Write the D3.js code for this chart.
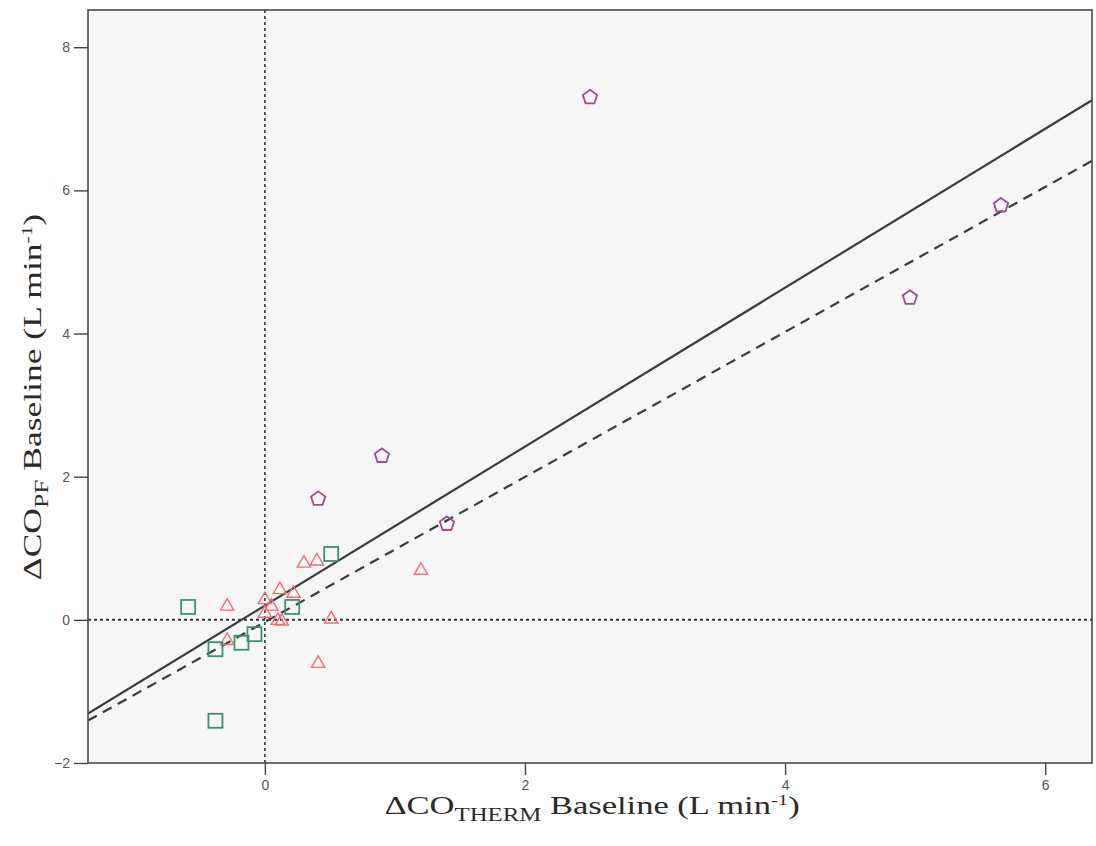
<!DOCTYPE html>
<html><head><meta charset="utf-8">
<script src="https://cdn.jsdelivr.net/npm/d3@7"></script>
<style>body{margin:0;background:#fff}svg{display:block}</style>
</head><body>
<script>
// ---- data ----
const xTicks = [0, 2, 4, 6];
const yTicks = [-2, 0, 2, 4, 6, 8];
const pentX = [2.5, 5.66, 4.96, 0.9, 0.41, 1.4];
const pentY = [7.3, 5.79, 4.5, 2.29, 1.69, 1.34];
const triX = [-0.29, 0.3, 0.4, 0.0, 0.115, 0.22, 0.0, 0.1, 0.13, 0.51, 0.41, -0.29, 1.2, 0.05];
const triY = [0.2, 0.8, 0.83, 0.29, 0.43, 0.38, 0.1, 0.0, -0.01, 0.02, -0.6, -0.28, 0.7, 0.2];
const sqX = [0.51, 0.21, -0.59, -0.08, -0.18, -0.38, -0.38];
const sqY = [0.92, 0.18, 0.18, -0.2, -0.32, -0.41, -1.41];
const fitSolid = {intercept: 0.2, slope: 1.11};
const fitDashed = {intercept: -0.03, slope: 1.013};
const xDomain = [-1.36, 6.36];
const yDomain = [-2, 8.52];

const W = 1096, H = 846;
const L = 88, R = 1092, T = 10, B = 763;
const svg = d3.select("body").append("svg").attr("width", W).attr("height", H);
const x = d3.scaleLinear().domain(xDomain).range([L, R]);
const y = d3.scaleLinear().domain(yDomain).range([B, T]);

svg.append("rect").attr("x", L).attr("y", T).attr("width", R - L).attr("height", B - T)
  .attr("fill", "#f6f6f7");

const clip = svg.append("clipPath").attr("id", "c").append("rect")
  .attr("x", L).attr("y", T).attr("width", R - L).attr("height", B - T);
const g = svg.append("g").attr("clip-path", "url(#c)");

// reference lines
g.append("line").attr("x1", x(0)).attr("x2", x(0)).attr("y1", T).attr("y2", B)
  .attr("stroke", "#333").attr("stroke-width", 1.6).attr("stroke-dasharray", "3,3");
g.append("line").attr("x1", L).attr("x2", R).attr("y1", y(0)).attr("y2", y(0))
  .attr("stroke", "#333").attr("stroke-width", 2).attr("stroke-dasharray", "3,3");

// fit lines
function fitLine(f, dash, w) {
  g.append("line")
    .attr("x1", x(xDomain[0])).attr("y1", y(f.intercept + f.slope * xDomain[0]))
    .attr("x2", x(xDomain[1])).attr("y2", y(f.intercept + f.slope * xDomain[1]))
    .attr("stroke", "#3a3a3e").attr("stroke-width", w)
    .attr("stroke-dasharray", dash);
}
fitLine(fitDashed, "10,7", 2.2);
fitLine(fitSolid, null, 2.2);

// markers
function pentagonPath(r) {
  const pts = [];
  for (let i = 0; i < 5; i++) {
    const a = -Math.PI / 2 + i * 2 * Math.PI / 5;
    pts.push([r * Math.cos(a), r * Math.sin(a)]);
  }
  return "M" + pts.map(p => p.join(",")).join("L") + "Z";
}
function trianglePath(r) {
  return `M0,${-r}L${r * 0.95},${r * 0.65}L${-r * 0.95},${r * 0.65}Z`;
}
g.selectAll(".tri").data(triX.map((d, i) => [d, triY[i]])).join("path")
  .attr("transform", d => `translate(${x(d[0])},${y(d[1])})`)
  .attr("d", trianglePath(7)).attr("fill", "none")
  .attr("stroke", "#e8707a").attr("stroke-width", 1.4);
g.selectAll(".sq").data(sqX.map((d, i) => [d, sqY[i]])).join("rect")
  .attr("x", d => x(d[0]) - 7).attr("y", d => y(d[1]) - 7)
  .attr("width", 14).attr("height", 14).attr("fill", "none")
  .attr("stroke", "#3d8f72").attr("stroke-width", 1.8);
g.selectAll(".pe").data(pentX.map((d, i) => [d, pentY[i]])).join("path")
  .attr("transform", d => `translate(${x(d[0])},${y(d[1])})`)
  .attr("d", pentagonPath(7.5)).attr("fill", "none")
  .attr("stroke", "#9a4f8c").attr("stroke-width", 1.8);

// frame
svg.append("rect").attr("x", L).attr("y", T).attr("width", R - L).attr("height", B - T)
  .attr("fill", "none").attr("stroke", "#4a4a58").attr("stroke-width", 1.6);

// axes
const xa = svg.append("g").attr("transform", `translate(0,${B})`)
  .call(d3.axisBottom(x).tickValues(xTicks).tickFormat(d3.format("d")).tickSize(12).tickPadding(5));
const ya = svg.append("g").attr("transform", `translate(${L},0)`)
  .call(d3.axisLeft(y).tickValues(yTicks).tickFormat(d3.format("d")).tickSize(14).tickPadding(4));
[xa, ya].forEach(a => {
  a.select(".domain").remove();
  a.selectAll("line").attr("stroke", "#444").attr("stroke-width", 1.4);
  a.selectAll("text").attr("font-family", "Liberation Sans, Arial, sans-serif")
    .attr("font-size", 14).attr("fill", "#555");
});

// axis titles
const tf = "Liberation Serif, Times New Roman, serif";
function title(sel, sub) {
  sel.attr("text-anchor", "middle").attr("font-family", tf).attr("font-size", 25)
    .attr("fill", "#2a2a2a");
  sel.append("tspan").text("ΔCO");
  sel.append("tspan").text(sub).attr("font-size", 18).attr("dy", 7);
  sel.append("tspan").text(" Baseline (L min").attr("dy", -7);
  sel.append("tspan").text("-1").attr("font-size", 15).attr("dy", -9);
  sel.append("tspan").text(")").attr("dy", 9);
}
title(svg.append("text").attr("transform", "translate(592,814) scale(1.38,1)"), "THERM");
title(svg.append("text").attr("transform", "translate(41,397) rotate(-90) scale(1.42,1)"), "PF");
</script>
</body></html>
